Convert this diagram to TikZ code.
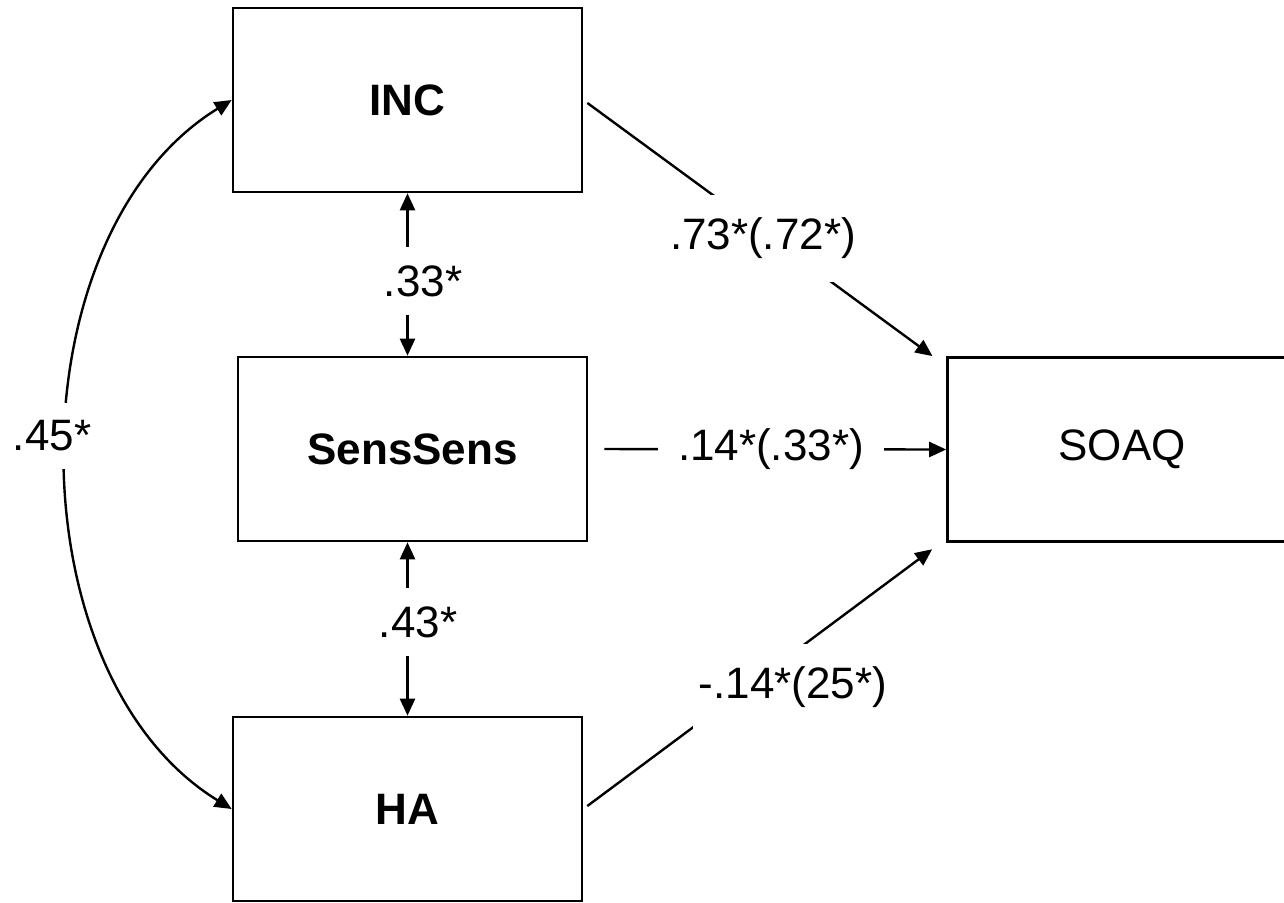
\documentclass[tikz,border=0pt]{standalone}
\usepackage{fontspec}
\setmainfont{Liberation Sans}
\usetikzlibrary{arrows.meta}
\begin{document}
\begin{tikzpicture}[x=1pt,y=-1pt,
  box/.style={draw, line width=2.6pt, minimum width=349pt, minimum height=184pt, inner sep=0pt, font=\fontsize{44}{50}\selectfont\bfseries},
  conn/.style={line width=2.4pt},
  onetip/.style={-{Triangle[length=17pt,width=15pt]}},
  twotip/.style={{Triangle[length=17pt,width=15pt]}-{Triangle[length=17pt,width=15pt]}},
  lab/.style={fill=white, font=\fontsize{44}{50}\selectfont, inner xsep=6pt}
]
\useasboundingbox (0,0) rectangle (1284,902);
\node[box] (INC) at (407.5,100) {INC};
\node[box] (SS) at (412.5,449) {SensSens};
\node[box] (HA) at (407.5,809) {HA};
\node[box, font=\fontsize{44}{50}\selectfont] (SOAQ) at (1122,449.5) {SOAQ};

% correlations
\draw[conn, twotip] (INC.south) -- (INC.south |- SS.north);
\draw[conn, twotip] (HA.north |- SS.south) -- (HA.north);
\draw[conn, twotip] (INC.west) .. controls (12,235) and (12,674) .. (HA.west);

% paths
\draw[conn, onetip, shorten <=5pt, shorten >=17pt] (INC.east) -- ([yshift=-10pt]SOAQ.north west);
\draw[conn, onetip, shorten <=16pt] (SS.east) -- (SOAQ.west);
\draw[conn, onetip, shorten <=5pt, shorten >=17.5pt] (HA.east) -- ([yshift=4pt]SOAQ.south west);

% labels
\node[lab, inner ysep=18pt] (l33) at (423,281) {.33*};
\node[lab, inner ysep=18pt] (l43) at (418,622) {.43*};
\node[lab, inner ysep=18pt] (l45) at (52,436) {.45*};
\node[lab, inner ysep=23pt] (l73) at (763,238) {.73*(.72*)};
\node[lab, inner xsep=20pt, inner ysep=8pt] (l14) at (771,449) {.14*(.33*)};
\node[lab, inner ysep=23pt] (lm14) at (793,687) {-.14*(25*)};
\end{tikzpicture}
\end{document}
